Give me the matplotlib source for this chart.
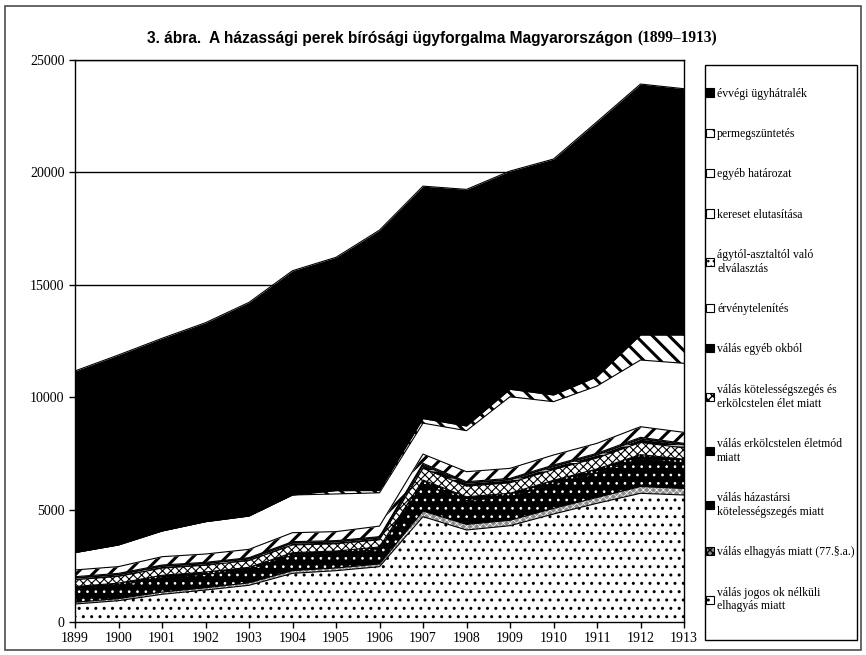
import numpy as np
import matplotlib.pyplot as plt
from matplotlib.patches import Rectangle

years = list(range(1899, 1914))

# stacked series, bottom to top
jogos_ok = [800, 948, 1232, 1423, 1632, 2165, 2283, 2461, 4686, 4092, 4284, 4804, 5280, 5725, 5649]
elhagyas_77 = [80, 90, 100, 100, 110, 120, 120, 120, 250, 250, 240, 250, 260, 300, 290]
hazastarsi = [600, 590, 640, 600, 590, 690, 650, 650, 1200, 1060, 1040, 1080, 1100, 1230, 1130]
erkolcstelen = [100, 100, 105, 100, 100, 110, 105, 105, 180, 170, 165, 170, 170, 190, 175]
koteless_erk = [300, 300, 320, 300, 300, 340, 322, 320, 520, 470, 460, 475, 485, 540, 500]
egyeb_okbol = [70, 70, 75, 70, 70, 80, 78, 78, 140, 130, 130, 135, 135, 150, 140]
ervenytelen = [26, 26, 25, 25, 25, 28, 25, 25, 33, 29, 29, 29, 30, 32, 25]
agytol = [40, 40, 38, 36, 35, 40, 37, 37, 50, 40, 42, 40, 43, 47, 39]
kereset_elut = [300, 300, 370, 370, 370, 400, 400, 470, 410, 445, 445, 445, 445, 474, 488]
egyeb_hat = [771, 964, 1142, 1438, 1482, 1677, 1676, 1481, 1377, 1824, 3187, 2372, 2549, 2966, 3071]
permegszunt = [0, 0, 0, 0, 0, 0, 147, 100, 200, 207, 329, 297, 414, 1112, 1259]
evvegi = [8081, 8451, 8572, 8851, 9505, 9977, 10380, 11585, 10343, 10527, 9709, 10497, 11343, 11164, 10956]

labels = [
    "válás jogos ok nélküli\nelhagyás miatt",
    "válás elhagyás miatt (77.§.a.)",
    "válás házastársi\nkötelességszegés miatt",
    "válás erkölcstelen életmód\nmiatt",
    "válás kötelességszegés és\nerkölcstelen élet miatt",
    "válás egyéb okból",
    "érvénytelenítés",
    "ágytól-asztaltól való\nelválasztás",
    "kereset elutasítása",
    "egyéb határozat",
    "permegszüntetés",
    "évvégi ügyhátralék",
]
series = [jogos_ok, elhagyas_77, hazastarsi, erkolcstelen, koteless_erk, egyeb_okbol,
          ervenytelen, agytol, kereset_elut, egyeb_hat, permegszunt, evvegi]

# (face, hatch, hatch colour, hatch linewidth)
styles = [
    ("white", "..", "black", 1.0),
    ("0.55", "xxxxx", "white", 0.5),
    ("black", "..", "white", 0.7),
    ("black", "...", "white", 0.6),
    ("white", "xxxx", "black", 0.8),
    ("black", "--", "white", 0.8),
    ("white", None, "black", 1.0),
    ("white", "...", "black", 0.6),
    ("white", "//", "black", 2.2),
    ("white", None, "black", 1.0),
    ("white", "\\\\", "black", 2.2),
    ("black", None, "black", 1.0),
]

plt.rcParams["font.family"] = ["Liberation Serif", "DejaVu Serif"]

fig = plt.figure(figsize=(8.66, 6.55), dpi=100)
ax = fig.add_axes([75 / 866, 33 / 655, 609 / 866, 562 / 655])

base = np.zeros(len(years))
handles = []
for vals, (fc, hatch, hc, hlw), label in zip(series, styles, labels):
    top = base + np.array(vals)
    with plt.rc_context({"hatch.linewidth": hlw}):
        coll = ax.fill_between(years, base, top, facecolor=fc, hatch=hatch,
                               edgecolor=hc, linewidth=0, zorder=2)
        if hasattr(coll, "set_hatch_linewidth"):
            coll.set_hatch_linewidth(hlw)
        h = Rectangle((0, 0), 1, 1, facecolor=fc, hatch=hatch,
                      edgecolor="black", lw=0.8, label=label)
    ax.plot(years, top, color="black", lw=0.8, zorder=3)
    handles.append(h)
    base = top

ax.set_xlim(1899, 1913)
ax.set_ylim(0, 25000)
ax.set_xticks(years)
ax.set_yticks(range(0, 25001, 5000))
ax.yaxis.grid(True, color="black", lw=1)
ax.set_axisbelow(True)
ax.tick_params(labelsize=10, direction="out", length=4, width=1)
for s in ax.spines.values():
    s.set_linewidth(1)
    s.set_zorder(4)

# legend with its own frame
fig.patches.append(Rectangle((705 / 866, 1 - 640 / 655), 152 / 866, 575 / 655,
                             transform=fig.transFigure, fill=False,
                             edgecolor="black", lw=1))
fig.legend(handles[::-1], labels[::-1], loc="center left",
           bbox_to_anchor=(706 / 866, 1 - 350 / 655), frameon=False,
           fontsize=8.5, labelspacing=2.4, handlelength=0.7, handleheight=0.7,
           handletextpad=0.25, borderpad=0, borderaxespad=0)

t1 = fig.text(147 / 866, 1 - 38 / 655,
              "3. ábra.  A házassági perek bírósági ügyforgalma Magyarországon ",
              family="Liberation Sans", weight="bold", fontsize=11.2, va="center")
ax.annotate("(1899–1913)", xy=(1, 0.5), xycoords=t1, va="center", ha="left",
            fontsize=11.2, weight="bold", annotation_clip=False)

fig.patches.append(Rectangle((5 / 866, 5 / 655), 856 / 866, 644 / 655,
                             transform=fig.transFigure, fill=False,
                             edgecolor="0.3", lw=1.2))

fig.savefig("out.png", dpi=100)
